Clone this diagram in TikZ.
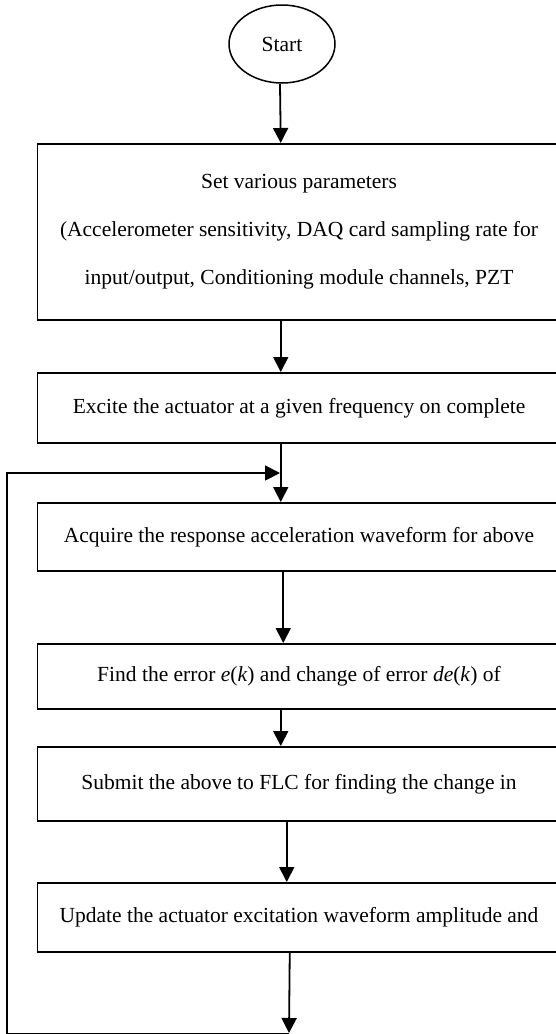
\documentclass[tikz,border=0pt]{standalone}
\usepackage{fontspec}
\setmainfont{Liberation Serif}
\usetikzlibrary{arrows.meta,shapes.geometric,calc}
\begin{document}
\begin{tikzpicture}[x=1pt,y=1pt,
  box/.style={draw,line width=1.5pt,rectangle,minimum width=523.5pt,anchor=north west,inner sep=0pt,align=center,font=\fontsize{21.5}{48}\selectfont},
  startnode/.style={draw,ellipse,line width=1.5pt,minimum width=106pt,minimum height=78pt,inner sep=0pt,font=\fontsize{21.5}{26}\selectfont},
  arr/.style={line width=1.8pt,-{Triangle[length=15pt,width=15pt]}}]
\useasboundingbox (0,0) rectangle (555,-1034);
\node[startnode] (start) at (282,-44) {Start};
\node[box,minimum height=176pt] (b1) at (36.5,-143) {Set various parameters\\(Accelerometer sensitivity, DAQ card sampling rate for\\input/output, Conditioning module channels, PZT};
\node[box,minimum height=70pt] (b2) at (36.5,-372) {Excite the actuator at a given frequency on complete};
\node[box,minimum height=68pt] (b3) at (36.5,-502) {Acquire the response acceleration waveform for above};
\node[box,minimum height=65pt] (b4) at (36.5,-643) {Find the error \textit{e}(\textit{k}) and change of error \textit{de}(\textit{k}) of};
\node[box,minimum height=74pt] (b5) at (36.5,-746) {Submit the above to FLC for finding the change in};
\node[box,minimum height=69pt] (b6) at (36.5,-882) {Update the actuator excitation waveform amplitude and};
\coordinate (join) at (280,-473);
\coordinate (endc) at (289,-1033);
\coordinate (bl) at (7,-1034.2);
\draw[arr] ([xshift=-2pt]start.south) -- ([xshift=-18.25pt]b1.north);
\draw[arr] ([xshift=-18.25pt]b1.south) -- ([xshift=-18.25pt]b2.north);
\draw[arr] ([xshift=-18.25pt]b2.south) -- ([xshift=-18.25pt]b3.north);
\draw[arr] ([xshift=-15.75pt]b3.south) -- ([xshift=-15.75pt]b4.north);
\draw[arr] ([xshift=-18.25pt]b4.south) -- ([xshift=-18.25pt]b5.north);
\draw[arr] ([xshift=-12.25pt]b5.south) -- ([xshift=-12.25pt]b6.north);
\draw[arr] ([xshift=-9.25pt]b6.south) -- (endc);
\draw[arr] (endc |- bl) -- (bl) |- (join);
\end{tikzpicture}
\end{document}
